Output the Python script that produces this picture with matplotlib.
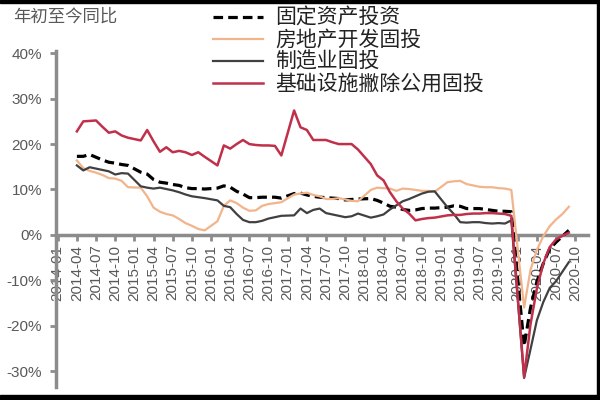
"""
年初至今同比：固定资产投资及分项
"""

import matplotlib.pyplot as plt
from matplotlib.patches import Rectangle

plt.rcParams["font.family"] = ["Liberation Sans", "Noto Sans CJK SC", "DejaVu Sans"]

# 月份（1月无单独数据，1-2月合并发布）
months = [(2014, m) for m in range(4, 13)]
for yr in range(2015, 2020):
    months += [(yr, m) for m in range(2, 13)]
months += [(2020, m) for m in range(2, 10)]

fai = [17.3, 17.3, 17.7, 17.1, 16.5, 16.0, 15.8, 15.5, 15.3,
       13.8, 13.4, 12.2, 11.6, 11.4, 11.1, 10.9, 10.4, 10.2, 10.2, 10.1,
       10.3, 10.8, 10.5, 9.6, 9.0, 8.2, 8.2, 8.3, 8.3, 8.3, 8.1,
       9.1, 9.2, 8.8, 8.5, 8.3, 8.2, 8.1, 8.0, 7.7, 7.8, 7.9,
       8.0, 7.6, 7.0, 6.3, 6.1, 5.6, 5.4, 5.5, 5.8, 5.9, 5.9,
       6.1, 6.4, 6.3, 5.8, 5.8, 5.8, 5.6, 5.4, 5.2, 5.2, 5.1,
       -24.5, -16.1, -10.3, -6.3, -3.1, -1.6, -0.3, 1.0]

real_estate = [16.4, 14.7, 14.1, 13.7, 13.2, 12.5, 12.4, 11.9, 10.5,
               10.4, 8.5, 6.0, 5.1, 4.6, 4.3, 3.5, 2.6, 2.0, 1.3, 1.0,
               3.0, 6.4, 7.6, 7.0, 6.0, 5.3, 5.4, 6.4, 6.8, 7.0, 7.2,
               8.9, 9.1, 9.3, 8.8, 8.5, 7.9, 7.9, 8.1, 7.8, 7.5, 7.4,
               9.9, 10.4, 10.3, 10.2, 9.7, 10.2, 10.1, 9.9, 9.7, 9.7, 9.5,
               11.6, 11.8, 11.9, 11.2, 10.9, 10.6, 10.5, 10.5, 10.3, 10.2, 9.9,
               -16.0, -7.7, -3.3, -0.3, 1.9, 3.4, 4.6, 6.2]

manufacturing = [15.3, 14.2, 14.9, 14.6, 14.3, 14.0, 13.3, 13.6, 13.5,
                 10.7, 10.4, 10.2, 10.4, 10.1, 9.8, 9.4, 8.9, 8.5, 8.3, 8.1,
                 7.6, 6.4, 6.1, 4.6, 3.3, 2.8, 2.8, 3.1, 3.6, 3.9, 4.2,
                 4.3, 5.8, 4.8, 5.5, 5.8, 4.8, 4.5, 4.2, 3.9, 4.1, 4.7,
                 3.8, 4.1, 4.5, 5.6, 6.5, 7.4, 7.9, 8.5, 9.1, 9.5, 9.6,
                 6.1, 4.6, 2.8, 2.7, 2.8, 2.8, 2.6, 2.5, 2.6, 2.5, 3.2,
                 -31.5, -25.2, -18.8, -14.8, -11.7, -10.2, -8.1, -6.0]

infrastructure = [22.8, 25.0, 25.1, 25.2, 23.8, 22.5, 22.8, 21.9, 21.4,
                  20.8, 23.1, 20.6, 18.3, 19.3, 18.2, 18.5, 18.2, 17.6, 18.2, 17.2,
                  15.3, 19.7, 19.0, 20.0, 20.9, 20.0, 19.8, 19.7, 19.7, 19.6, 17.5,
                  27.4, 23.7, 23.1, 20.9, 20.9, 20.9, 20.4, 20.0, 20.0, 20.0, 18.8,
                  15.6, 13.1, 12.0, 9.4, 7.4, 5.8, 4.7, 3.2, 3.5, 3.7, 3.8,
                  4.3, 4.4, 4.4, 4.6, 4.7, 4.7, 4.8, 4.8, 4.7, 4.6, 4.2,
                  -31.3, -19.7, -11.8, -6.3, -2.7, -1.0, -0.2, 0.5]

labels = ["固定资产投资", "房地产开发固投", "制造业固投", "基础设施撇除公用固投"]
y_ticks = [-30, -20, -10, 0, 10, 20, 30, 40]

# 横轴：以2014-01为0的月序号
x = [(yr - 2014) * 12 + (m - 1) for yr, m in months]
x_ticks = list(range(0, 82, 3))
x_ticklabels = [f"{2014 + t // 12}-{t % 12 + 1:02d}" for t in x_ticks]

fig = plt.figure(figsize=(6, 4), dpi=100)
ax = fig.add_axes([0.093, 0.0325, 0.887, 0.84])

axis_gray = "#8c8c8c"
text_gray = "#595959"

l1, = ax.plot(x, fai, color="black", lw=2.3, dashes=(3, 1.6), zorder=3)
l2, = ax.plot(x, real_estate, color="#F2B48A", lw=1.6, zorder=3)
l3, = ax.plot(x, manufacturing, color="#404040", lw=1.6, zorder=3)
l4, = ax.plot(x, infrastructure, color="#C0304A", lw=1.8, zorder=3)

ax.set_xlim(-0.3, 83)
ax.set_ylim(-33.5, 40.5)

for s in ["top", "right"]:
    ax.spines[s].set_visible(False)
ax.spines["left"].set_color(axis_gray)
ax.spines["left"].set_linewidth(2.5)
ax.spines["bottom"].set_position(("data", 0))
ax.spines["bottom"].set_color(axis_gray)
ax.spines["bottom"].set_linewidth(2.5)

ax.set_yticks(y_ticks)
ax.set_yticklabels([f"{v}%" for v in y_ticks], fontsize=11, color=text_gray)
ax.set_xticks(x_ticks)
ax.set_xticklabels(x_ticklabels, rotation=90, fontsize=11, color=text_gray)
ax.tick_params(axis="both", length=4, width=2, color=axis_gray)
ax.tick_params(axis="x", pad=3)
ax.tick_params(axis="y", pad=6)

fig.text(13 / 600, 1 - 17 / 400, "年初至今同比", fontsize=12.5, color=text_gray,
         family=["Noto Sans CJK SC"], va="center", ha="left")

fig.legend([l1, l2, l3, l4], labels, loc="upper left",
           bbox_to_anchor=(213 / 600, 1 - 7 / 400), frameon=False,
           prop={"family": ["Noto Sans CJK SC"], "size": 15},
           handlelength=2.4, handletextpad=0.6, labelspacing=0.0,
           borderpad=0, borderaxespad=0, labelcolor="#222222")

# 原图的黑色边框
fig.add_artist(Rectangle((0, 1 - 3 / 400), 1, 3 / 400, transform=fig.transFigure, color="black"))
fig.add_artist(Rectangle((0, 0), 1, 5 / 400, transform=fig.transFigure, color="black"))
fig.add_artist(Rectangle((597 / 600, 0), 3 / 600, 1, transform=fig.transFigure, color="black"))

fig.savefig("out.png", dpi=100)
